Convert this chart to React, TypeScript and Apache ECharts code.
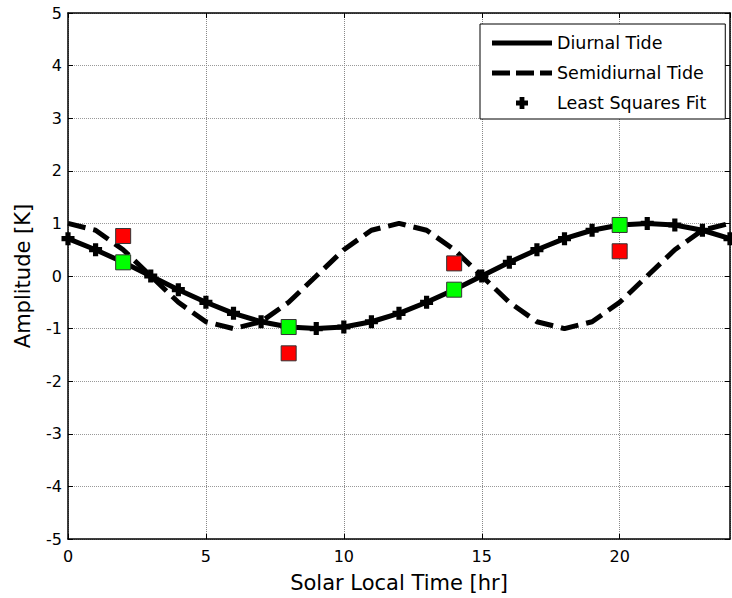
import React, { useEffect, useRef } from "react";
import * as echarts from "echarts";

// Hours of solar local time
const hours = [0, 1, 2, 3, 4, 5, 6, 7, 8, 9, 10, 11, 12, 13, 14, 15, 16, 17, 18, 19, 20, 21, 22, 23, 24];
// Diurnal tide amplitude [K]
const diurnal = [0.71, 0.5, 0.26, 0, -0.26, -0.5, -0.71, -0.87, -0.97, -1, -0.97, -0.87, -0.71, -0.5, -0.26, 0, 0.26, 0.5, 0.71, 0.87, 0.97, 1, 0.97, 0.87, 0.71];
// Semidiurnal tide amplitude [K]
const semidiurnal = [1, 0.87, 0.5, 0, -0.5, -0.87, -1, -0.87, -0.5, 0, 0.5, 0.87, 1, 0.87, 0.5, 0, -0.5, -0.87, -1, -0.87, -0.5, 0, 0.5, 0.87, 1];
// Least squares fit values
const fitValues = [0.71, 0.5, 0.26, 0, -0.26, -0.5, -0.71, -0.87, -0.97, -1, -0.97, -0.87, -0.71, -0.5, -0.26, 0, 0.26, 0.5, 0.71, 0.87, 0.97, 1, 0.97, 0.87, 0.71];
// Sample times and values
const sampleHours = [2, 8, 14, 20];
const greenValues = [0.26, -0.97, -0.26, 0.97];
const redValues = [0.76, -1.47, 0.24, 0.47];

const seriesNames = ["Diurnal Tide", "Semidiurnal Tide", "Least Squares Fit"];

const FONT = "DejaVu Sans";
const plusPath = "path://M3,0h4v3h3v4h-3v3h-4v-3h-3v-4h3z";
const solidIcon = "path://M0,0h60v5h-60z";
const dashIcon = "path://M0,0h18v5h-18z M24,0h18v5h-18z M48,0h12v5h-12z";

const pairs = (xs: number[], ys: number[]) => xs.map((x, i) => [x, ys[i]]);

export default function App() {
  const ref = useRef<HTMLDivElement>(null);
  useEffect(() => {
    const chart = echarts.init(ref.current!, null, { renderer: "svg" });
    const frameAxis = {
      axisLine: { show: true, onZero: false, lineStyle: { color: "#000", width: 1.5 } },
      axisTick: { show: true, inside: true, length: 5, lineStyle: { color: "#000", width: 1 } },
    };
    chart.setOption({
      animation: false,
      backgroundColor: "#fff",
      textStyle: { fontFamily: FONT },
      grid: { left: 68, top: 13, right: 2, bottom: 59, containLabel: false },
      legend: {
        orient: "vertical",
        left: 480,
        top: 24,
        itemWidth: 60,
        itemHeight: 12,
        itemGap: 12,
        padding: [10, 19, 7, 12],
        backgroundColor: "#fff",
        borderColor: "#000",
        borderWidth: 1,
        borderRadius: 0,
        textStyle: { fontFamily: FONT, fontSize: 17.5, color: "#000", lineHeight: 17 },
        data: [
          { name: seriesNames[0], icon: solidIcon, itemStyle: { color: "#000", opacity: 1 } },
          { name: seriesNames[1], icon: dashIcon, itemStyle: { color: "#000", opacity: 1 } },
          { name: seriesNames[2], icon: plusPath, itemStyle: { color: "#000", opacity: 1 } },
        ],
      },
      xAxis: [
        {
          type: "value",
          min: 0,
          max: 24,
          interval: 5,
          name: "Solar Local Time [hr]",
          nameLocation: "middle",
          nameGap: 33,
          nameTextStyle: { fontFamily: FONT, fontSize: 21, color: "#000" },
          axisLabel: { fontFamily: FONT, fontSize: 16, color: "#000", margin: 9, showMaxLabel: false },
          splitLine: { show: true, lineStyle: { color: "#888", type: "dotted", width: 1 } },
          ...frameAxis,
        },
        {
          type: "value",
          position: "top",
          min: 0,
          max: 24,
          interval: 5,
          axisLabel: { show: false },
          splitLine: { show: false },
          ...frameAxis,
        },
      ],
      yAxis: [
        {
          type: "value",
          min: -5,
          max: 5,
          interval: 1,
          name: "Amplitude [K]",
          nameLocation: "middle",
          nameGap: 35,
          nameTextStyle: { fontFamily: FONT, fontSize: 21, color: "#000" },
          axisLabel: { fontFamily: FONT, fontSize: 16, color: "#000", margin: 6 },
          splitLine: { show: true, lineStyle: { color: "#999", type: "dotted", width: 1 } },
          ...frameAxis,
        },
        {
          type: "value",
          position: "right",
          min: -5,
          max: 5,
          interval: 1,
          axisLabel: { show: false },
          splitLine: { show: false },
          ...frameAxis,
        },
      ],
      series: [
        {
          name: seriesNames[0],
          type: "line",
          data: pairs(hours, diurnal),
          showSymbol: false,
          symbol: "none",
          color: "#000",
          lineStyle: { color: "#000", width: 5 },
          z: 2,
        },
        {
          name: seriesNames[1],
          type: "line",
          data: pairs(hours, semidiurnal),
          showSymbol: false,
          symbol: "none",
          color: "#000",
          lineStyle: { color: "#000", width: 5, type: [18, 8], cap: "butt" },
          z: 2,
        },
        {
          name: seriesNames[2],
          type: "scatter",
          data: pairs(hours, fitValues),
          symbol: plusPath,
          symbolSize: 13,
          color: "#000",
          itemStyle: { color: "#000", opacity: 1 },
          z: 3,
        },
        {
          name: "Green",
          type: "scatter",
          data: pairs(sampleHours, greenValues),
          symbol: "rect",
          symbolSize: 15,
          itemStyle: { color: "#00ff00", borderColor: "#333", borderWidth: 1, opacity: 1 },
          z: 4,
        },
        {
          name: "Red",
          type: "scatter",
          data: pairs(sampleHours, redValues),
          symbol: "rect",
          symbolSize: 15,
          itemStyle: { color: "#ff0000", borderColor: "#333", borderWidth: 1, opacity: 1 },
          z: 4,
        },
      ],
    });
    return () => chart.dispose();
  }, []);
  return (
    <div
      ref={ref}
      style={{ position: "absolute", left: 0, top: 0, width: 732, height: 598, background: "#fff" }}
    />
  );
}
